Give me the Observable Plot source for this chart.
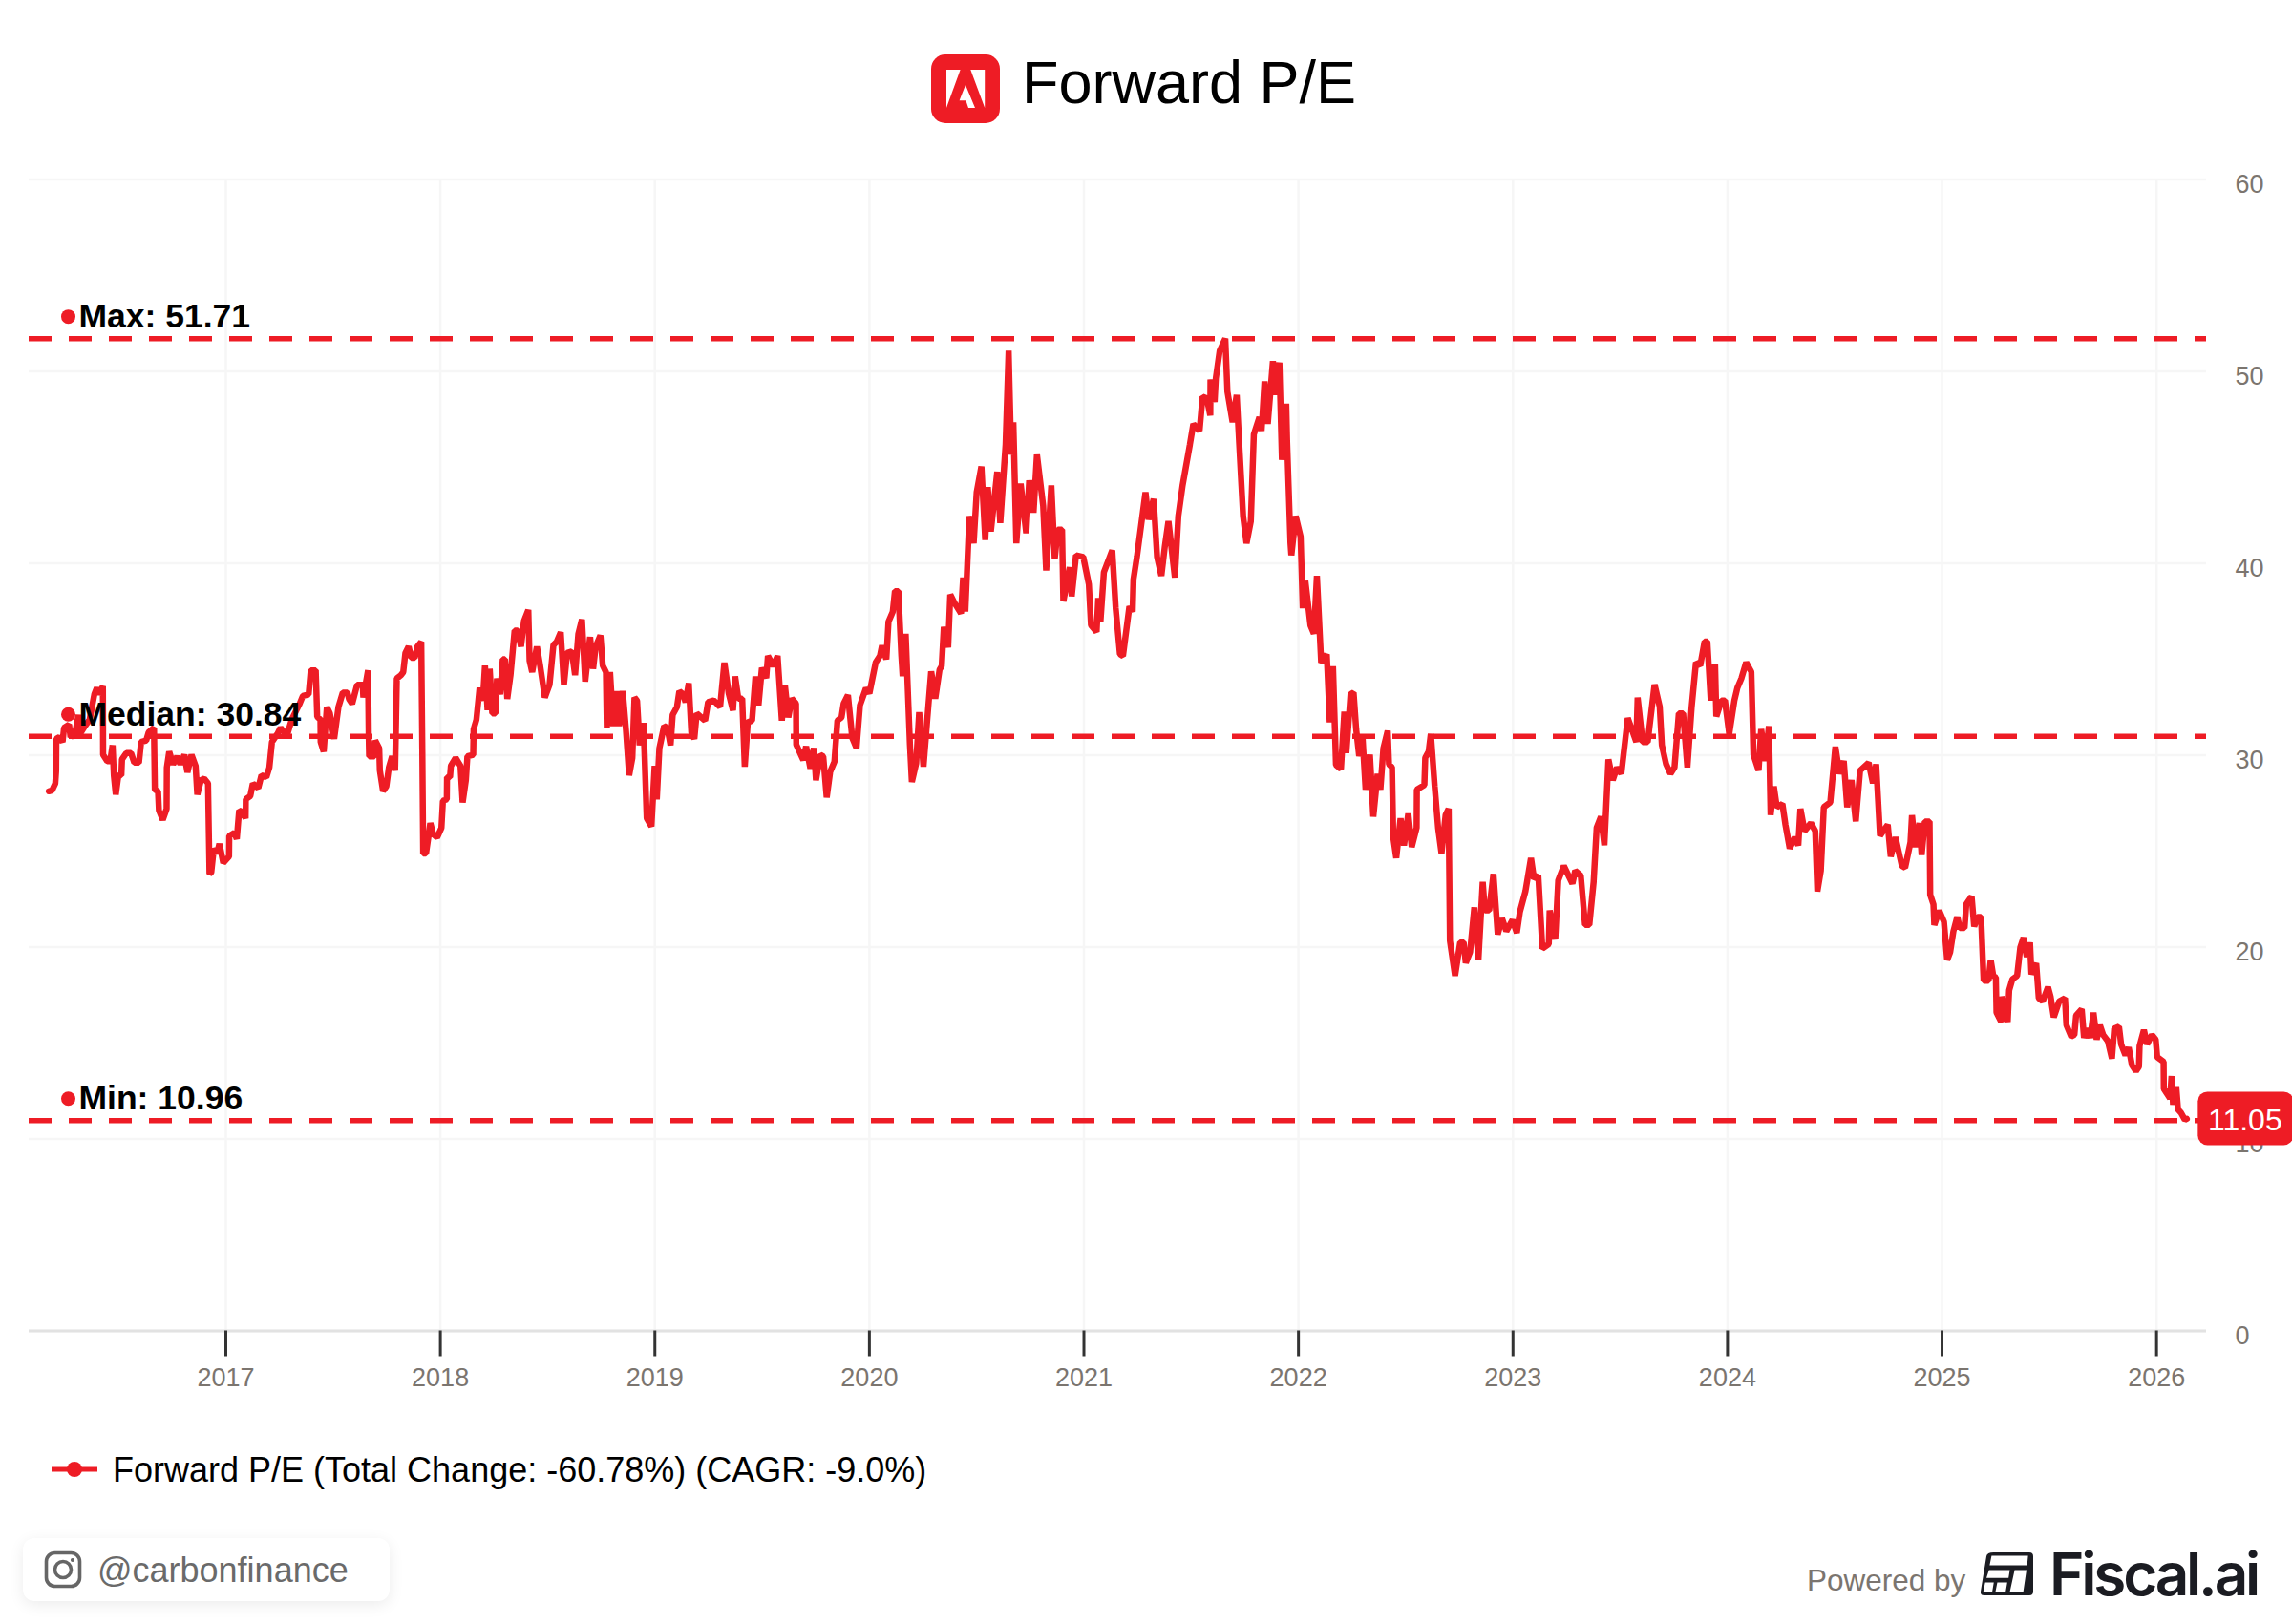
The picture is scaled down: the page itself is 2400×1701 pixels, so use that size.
<!DOCTYPE html>
<html>
<head>
<meta charset="utf-8">
<title>Forward P/E</title>
<script src="https://cdn.jsdelivr.net/npm/d3@7"></script>
<script src="https://cdn.jsdelivr.net/npm/@observablehq/plot@0.6"></script>
<style>
html,body{margin:0;padding:0;background:#fff;}
#page{position:relative;width:2400px;height:1701px;overflow:hidden;font-family:"Liberation Sans",Arial,Helvetica,sans-serif;}
#chart{position:absolute;left:0;top:170px;}
#chart svg{display:block;overflow:visible;}
.abs{position:absolute;white-space:nowrap;line-height:normal;}
</style>
</head>
<body>
<div id="page">
  <svg class="abs" style="left:975px;top:57px" width="72" height="72" viewBox="0 0 72 72">
    <rect width="72" height="72" rx="15" fill="#ee1c25"/>
    <path fill="#fff" d="M16 16H30.6L16 56ZM41.3 16H56.2V56ZM36 32L46 56H39L36.4 48.3H29.6Z"/>
  </svg>
  <div class="abs" id="title" style="left:1070px;top:49.5px;font-size:63px;color:#000">Forward P/E</div>
  <div id="chart"></div>
  <svg class="abs" style="left:54px;top:1525px" width="48" height="28" viewBox="0 0 48 28">
    <rect x="0" y="11.5" width="48" height="5" fill="#ee1c25"/>
    <circle cx="24" cy="14" r="8" fill="#ee1c25"/>
  </svg>
  <div class="abs" id="legend" style="left:118px;top:1518.5px;font-size:36px;color:#000">Forward P/E (Total Change: -60.78%) (CAGR: -9.0%)</div>
  <div class="abs" style="left:24px;top:1611px;width:384px;height:66px;border-radius:12px;background:#fff;box-shadow:0 4px 16px rgba(0,0,0,0.08)"></div>
  <svg class="abs" style="left:46px;top:1624px" width="40" height="40" viewBox="0 0 40 40" fill="none" stroke="#666" stroke-width="3.6">
    <rect x="2.5" y="2.5" width="35" height="35" rx="9"/>
    <circle cx="20" cy="20" r="8.5"/>
    <circle cx="30" cy="10" r="1.4" fill="#666" stroke-width="1.4"/>
  </svg>
  <div class="abs" id="handle" style="left:102px;top:1623.5px;font-size:36px;color:#6a6a6a">@carbonfinance</div>
  <div class="abs" id="powered" style="left:1892px;top:1636.5px;font-size:31.5px;color:#7b756f">Powered by</div>
  <svg class="abs" style="left:2074px;top:1626px" width="55" height="45" viewBox="44 48 164 134">
    <path fill="#1b1c22" d="M84 48H196Q208 48 208 60V170Q208 182 196 182H54Q42 182 44 170L62 60Q64 48 84 48Z"/>
    <path fill="#fff" d="M78 58H192L189 88H72ZM70 103H135L131 128H62ZM58 142H85L80 172H52ZM96 142H127L122 172H90ZM150 103H187L177 172H135Z"/>
  </svg>
  <div class="abs" id="brand" style="left:2146px;top:1611px;font-family:Inter,'Liberation Sans',sans-serif;font-weight:600;font-size:62px;letter-spacing:-3.2px;color:#1b1c22">Fiscal.ai</div>
</div>
<script>
const redColor = "#ee1c25";
const yearTicks = [2017, 2018, 2019, 2020, 2021, 2022, 2023, 2024, 2025, 2026];
const valueTicks = [0, 10, 20, 30, 40, 50, 60];
const statNames = ["Max: 51.71", "Median: 30.84", "Min: 10.96"];
const statLevels = [51.71, 30.98, 10.96];
const latestValue = 11.05;
const xDomain = [2016.083, 2026.233];
const yDomain = [0, 60];

// [decimal year, forward P/E]
const forwardPE = [
[2016.175,28.12],[2016.190,28.17],[2016.205,28.53],[2016.209,29.20],[2016.210,30.85],[2016.224,30.94],[2016.239,30.69],[2016.246,31.43],[2016.269,31.60],[2016.276,30.94],[2016.298,31.19],[2016.313,32.10],[2016.320,31.10],[2016.343,31.52],[2016.365,31.85],[2016.387,33.17],[2016.399,33.51],[2016.409,33.17],[2016.427,33.59],[2016.428,30.02],[2016.447,29.69],[2016.461,29.69],[2016.472,30.52],[2016.478,28.95],[2016.487,27.95],[2016.499,28.95],[2016.513,28.95],[2016.516,29.78],[2016.536,30.11],[2016.558,30.11],[2016.573,29.61],[2016.595,29.61],[2016.605,30.69],[2016.629,30.77],[2016.640,31.19],[2016.665,31.43],[2016.669,28.20],[2016.684,28.12],[2016.688,27.12],[2016.706,26.63],[2016.724,27.21],[2016.725,29.36],[2016.736,30.19],[2016.754,29.53],[2016.773,29.94],[2016.788,29.53],[2016.807,30.02],[2016.821,29.11],[2016.840,30.02],[2016.859,29.44],[2016.867,27.95],[2016.884,28.70],[2016.899,28.78],[2016.917,28.53],[2016.924,23.81],[2016.932,23.89],[2016.944,25.13],[2016.959,24.88],[2016.970,25.38],[2016.988,24.39],
[2017.015,24.72],[2017.016,25.80],[2017.040,25.96],[2017.051,25.63],[2017.062,27.12],[2017.077,27.04],[2017.092,26.71],[2017.093,27.70],[2017.114,27.87],[2017.126,28.53],[2017.151,28.28],[2017.166,28.95],[2017.189,28.86],[2017.203,29.36],[2017.215,30.69],[2017.240,31.10],[2017.255,31.43],[2017.285,31.02],[2017.307,31.85],[2017.344,32.68],[2017.359,33.09],[2017.386,33.17],[2017.396,34.42],[2017.419,34.42],[2017.426,32.01],[2017.441,31.85],[2017.442,30.69],[2017.456,30.19],[2017.471,32.51],[2017.485,32.18],[2017.505,30.85],[2017.525,32.51],[2017.545,33.26],[2017.567,33.26],[2017.574,32.93],[2017.589,32.68],[2017.612,33.67],[2017.638,33.67],[2017.641,33.01],[2017.663,34.42],[2017.666,31.02],[2017.668,29.94],[2017.693,29.94],[2017.696,30.77],[2017.715,30.36],[2017.718,29.20],[2017.733,28.12],[2017.748,28.37],[2017.760,29.36],[2017.775,29.94],[2017.789,29.20],[2017.797,34.00],[2017.816,34.17],[2017.827,34.33],[2017.837,35.33],[2017.852,35.66],[2017.864,35.08],[2017.881,35.08],[2017.893,35.66],[2017.911,35.91],[2017.916,30.19],[2017.920,24.88],[2017.933,24.88],[2017.945,25.80],[2017.953,26.46],[2017.967,25.88],[2017.985,25.71],
[2018.005,26.21],[2018.012,27.62],[2018.030,27.70],[2018.031,28.86],[2018.045,28.86],[2018.049,29.44],[2018.071,29.86],[2018.094,29.44],[2018.104,27.54],[2018.119,28.70],[2018.126,29.94],[2018.153,30.02],[2018.155,31.35],[2018.168,31.85],[2018.183,33.51],[2018.198,32.84],[2018.208,34.67],[2018.220,32.35],[2018.230,34.50],[2018.242,32.18],[2018.257,32.18],[2018.264,34.00],[2018.279,33.17],[2018.291,35.00],[2018.301,35.00],[2018.312,32.93],[2018.327,34.17],[2018.346,36.49],[2018.361,36.49],[2018.376,35.66],[2018.390,36.99],[2018.410,37.57],[2018.416,34.92],[2018.428,34.33],[2018.450,35.66],[2018.465,34.67],[2018.487,33.01],[2018.509,33.67],[2018.527,35.74],[2018.542,35.91],[2018.561,36.41],[2018.576,33.67],[2018.591,35.33],[2018.613,35.41],[2018.628,34.17],[2018.643,36.32],[2018.660,37.07],[2018.675,33.84],[2018.698,36.16],[2018.712,34.50],[2018.724,35.66],[2018.746,36.24],[2018.757,34.67],[2018.772,34.33],[2018.776,31.43],[2018.791,34.33],[2018.806,31.52],[2018.821,33.34],[2018.833,31.52],[2018.850,33.34],[2018.865,31.35],[2018.880,28.95],[2018.895,29.86],[2018.905,33.01],[2018.917,32.84],[2018.929,30.52],[2018.947,31.68],[2018.962,26.71],[2018.984,26.29],[2018.999,29.44],
[2019.009,27.70],[2019.021,30.36],[2019.043,31.52],[2019.058,31.43],[2019.073,30.52],[2019.083,32.10],[2019.103,32.51],[2019.114,33.34],[2019.132,33.17],[2019.143,32.76],[2019.158,33.75],[2019.170,31.19],[2019.184,30.85],[2019.195,32.18],[2019.234,31.80],[2019.248,32.77],[2019.274,32.86],[2019.304,32.51],[2019.324,34.82],[2019.344,33.22],[2019.364,32.33],[2019.374,34.11],[2019.389,32.95],[2019.407,32.95],[2019.419,29.40],[2019.433,31.71],[2019.453,31.80],[2019.469,34.11],[2019.483,32.60],[2019.499,34.55],[2019.519,34.02],[2019.527,35.17],[2019.552,34.64],[2019.572,35.17],[2019.592,31.80],[2019.606,33.66],[2019.622,31.97],[2019.638,32.95],[2019.658,32.69],[2019.659,30.55],[2019.692,29.75],[2019.705,30.46],[2019.725,29.31],[2019.741,30.37],[2019.751,28.69],[2019.771,30.02],[2019.785,29.93],[2019.801,27.80],[2019.817,29.13],[2019.837,29.66],[2019.851,31.80],[2019.870,31.97],[2019.880,32.69],[2019.900,33.13],[2019.920,30.91],[2019.940,30.37],[2019.956,32.60],[2019.984,33.49],
[2020.000,33.22],[2020.029,34.82],[2020.049,35.17],[2020.059,35.71],[2020.079,35.00],[2020.089,36.95],[2020.109,37.48],[2020.119,38.55],[2020.135,38.55],[2020.149,35.17],[2020.155,34.11],[2020.169,36.33],[2020.189,30.55],[2020.198,28.60],[2020.218,29.58],[2020.232,32.24],[2020.252,29.40],[2020.268,31.62],[2020.288,34.37],[2020.307,32.95],[2020.327,34.46],[2020.337,34.64],[2020.347,36.68],[2020.367,35.62],[2020.377,38.37],[2020.397,37.93],[2020.427,37.39],[2020.437,39.26],[2020.447,37.48],[2020.466,42.46],[2020.486,41.04],[2020.500,43.70],[2020.522,45.04],[2020.540,41.22],[2020.552,43.97],[2020.566,41.66],[2020.596,44.77],[2020.610,42.10],[2020.635,46.19],[2020.649,51.08],[2020.661,45.66],[2020.671,47.35],[2020.685,41.04],[2020.705,44.15],[2020.731,41.57],[2020.745,44.32],[2020.765,42.64],[2020.781,45.66],[2020.810,42.99],[2020.824,39.62],[2020.848,44.06],[2020.864,40.24],[2020.878,41.75],[2020.898,41.75],[2020.904,38.02],[2020.934,39.79],[2020.943,38.28],[2020.963,40.42],[2020.997,40.33],
[2021.023,38.90],[2021.033,36.77],[2021.059,36.42],[2021.067,38.19],[2021.077,36.95],[2021.093,39.53],[2021.132,40.68],[2021.148,37.66],[2021.168,35.26],[2021.182,35.17],[2021.212,37.75],[2021.227,37.48],[2021.231,39.17],[2021.247,40.33],[2021.267,42.01],[2021.287,43.70],[2021.301,42.28],[2021.325,43.35],[2021.341,40.33],[2021.361,39.35],[2021.377,40.86],[2021.394,42.19],[2021.424,39.26],[2021.440,42.46],[2021.460,44.06],[2021.494,46.19],[2021.510,47.26],[2021.539,46.90],[2021.553,48.68],[2021.573,48.59],[2021.589,47.70],[2021.590,49.57],[2021.609,48.41],[2021.615,49.65],[2021.633,51.08],[2021.659,51.71],[2021.669,48.94],[2021.693,47.35],[2021.712,48.77],[2021.724,46.19],[2021.742,42.46],[2021.758,41.04],[2021.778,42.19],[2021.792,46.72],[2021.818,47.61],[2021.828,46.90],[2021.842,49.48],[2021.857,47.26],[2021.881,50.54],[2021.893,48.77],[2021.911,50.46],[2021.923,45.39],[2021.943,48.32],[2021.947,46.37],[2021.963,41.04],[2021.967,40.42],[2021.987,42.46],
[2022.010,41.39],[2022.020,37.66],[2022.032,39.08],[2022.056,36.77],[2022.072,36.33],[2022.086,39.35],[2022.106,34.82],[2022.132,35.26],[2022.146,31.71],[2022.161,34.64],[2022.175,29.49],[2022.198,29.28],[2022.214,32.27],[2022.223,30.11],[2022.243,33.18],[2022.257,33.26],[2022.269,31.36],[2022.283,29.95],[2022.299,30.86],[2022.313,28.21],[2022.333,30.03],[2022.349,26.80],[2022.369,29.03],[2022.382,28.21],[2022.396,30.36],[2022.416,31.27],[2022.422,29.53],[2022.436,29.37],[2022.442,25.72],[2022.456,24.64],[2022.476,26.71],[2022.492,25.30],[2022.512,26.96],[2022.528,25.22],[2022.551,26.22],[2022.552,28.21],[2022.587,28.45],[2022.591,29.86],[2022.607,30.20],[2022.617,31.11],[2022.635,28.37],[2022.651,26.22],[2022.667,24.89],[2022.686,26.88],[2022.700,27.21],[2022.706,20.33],[2022.730,18.51],[2022.754,20.25],[2022.770,20.25],[2022.780,19.17],[2022.800,19.75],[2022.820,22.07],[2022.839,19.34],[2022.859,23.40],[2022.869,21.91],[2022.889,21.91],[2022.909,23.81],[2022.929,20.66],[2022.949,21.49],[2022.969,20.83],[2022.998,21.41],
[2023.018,20.74],[2023.032,21.82],[2023.058,22.90],[2023.084,24.64],[2023.098,23.56],[2023.118,23.73],[2023.137,19.92],[2023.167,20.16],[2023.171,21.91],[2023.197,20.41],[2023.211,23.48],[2023.237,24.23],[2023.277,23.31],[2023.290,23.98],[2023.316,23.73],[2023.336,21.16],[2023.356,21.16],[2023.376,23.40],[2023.390,26.22],[2023.410,26.80],[2023.426,25.30],[2023.445,29.78],[2023.465,28.70],[2023.485,29.37],[2023.505,29.03],[2023.535,31.94],[2023.575,30.69],[2023.581,33.01],[2023.604,30.69],[2023.628,30.69],[2023.660,33.68],[2023.684,32.52],[2023.694,30.53],[2023.714,29.53],[2023.734,29.03],[2023.753,29.37],[2023.773,32.18],[2023.793,32.18],[2023.813,29.37],[2023.833,32.52],[2023.853,34.84],[2023.873,34.67],[2023.893,35.92],[2023.906,35.92],[2023.922,32.85],[2023.942,34.75],[2023.948,32.02],[2023.972,32.85],[2023.988,32.85],
[2024.008,31.11],[2024.032,32.85],[2024.046,33.51],[2024.065,34.01],[2024.087,34.84],[2024.111,34.34],[2024.121,30.03],[2024.145,29.20],[2024.157,31.36],[2024.177,29.70],[2024.193,31.52],[2024.201,26.88],[2024.216,28.37],[2024.230,27.29],[2024.256,27.46],[2024.270,26.38],[2024.290,25.14],[2024.314,25.72],[2024.330,25.30],[2024.340,27.21],[2024.359,26.05],[2024.389,26.46],[2024.409,26.05],[2024.419,22.90],[2024.435,23.98],[2024.449,27.29],[2024.479,27.54],[2024.503,30.44],[2024.522,29.03],[2024.542,29.70],[2024.558,27.29],[2024.578,28.70],[2024.598,26.55],[2024.618,29.20],[2024.658,29.61],[2024.678,28.54],[2024.693,29.53],[2024.711,25.80],[2024.747,26.38],[2024.761,24.72],[2024.783,25.72],[2024.813,24.23],[2024.828,24.14],[2024.853,25.46],[2024.860,26.87],[2024.875,25.21],[2024.895,26.46],[2024.905,24.80],[2024.920,26.54],[2024.942,26.54],[2024.945,22.73],[2024.960,22.23],[2024.964,21.15],[2024.987,21.90],
[2025.009,21.32],[2025.024,19.33],[2025.038,19.74],[2025.053,20.82],[2025.071,21.57],[2025.083,20.99],[2025.105,20.99],[2025.113,22.23],[2025.138,22.64],[2025.150,21.07],[2025.165,21.57],[2025.182,21.57],[2025.194,18.25],[2025.217,18.25],[2025.227,19.33],[2025.239,18.50],[2025.251,18.42],[2025.254,16.59],[2025.276,16.10],[2025.280,17.42],[2025.291,16.92],[2025.306,16.10],[2025.313,17.75],[2025.328,18.33],[2025.350,18.50],[2025.365,19.99],[2025.380,20.49],[2025.395,19.49],[2025.410,20.24],[2025.417,18.58],[2025.439,19.16],[2025.451,17.34],[2025.469,17.17],[2025.494,17.92],[2025.506,17.42],[2025.521,16.34],[2025.546,17.17],[2025.573,17.34],[2025.580,15.93],[2025.602,15.35],[2025.617,15.43],[2025.625,16.43],[2025.651,16.76],[2025.662,15.27],[2025.677,15.76],[2025.691,15.27],[2025.706,16.59],[2025.721,15.18],[2025.736,15.93],[2025.751,15.43],[2025.773,15.10],[2025.792,14.19],[2025.803,15.76],[2025.825,15.85],[2025.835,14.93],[2025.855,14.36],[2025.870,14.77],[2025.885,13.86],[2025.904,13.53],[2025.918,13.77],[2025.921,14.85],[2025.941,15.68],[2025.956,14.93],[2025.978,15.43],[2025.996,15.18],
[2026.003,14.27],[2026.033,14.02],[2026.034,12.61],[2026.063,12.12],[2026.070,13.28],[2026.077,11.79],[2026.092,12.70],[2026.100,11.54],[2026.114,11.37],[2026.132,11.00],[2026.141,11.05]
];
const lastPoint = forwardPE[forwardPE.length - 1];
const stats = statNames.map((label, i) => ({label, level: statLevels[i], at: xDomain[0]}));

const latestBadge = (index, {x, y}) => {
  const g = d3.create("svg:g");
  const left = x(lastPoint[0]) + 12, mid = y(latestValue);
  g.append("rect").attr("x", left).attr("y", mid - 28).attr("width", 100).attr("height", 56).attr("rx", 10).attr("fill", redColor);
  g.append("text").attr("x", left + 49.5).attr("y", mid + 12.5).attr("text-anchor", "middle")
    .attr("font-size", 32).attr("fill", "#fff").text(latestValue.toFixed(2));
  return g.node();
};

const chart = Plot.plot({
  width: 2400,
  height: 1300,
  marginTop: 17.5,
  marginBottom: 76.5,
  marginLeft: 30,
  marginRight: 90,
  style: {background: "transparent", fontFamily: '"Liberation Sans", Arial, Helvetica, sans-serif', overflow: "visible"},
  x: {type: "linear", domain: xDomain, label: null},
  y: {domain: yDomain, label: null},
  marks: [
    Plot.gridX(yearTicks, {stroke: "#f6f6f6", strokeOpacity: 1, strokeWidth: 2.5}),
    Plot.gridY(valueTicks, {stroke: "#f6f6f6", strokeOpacity: 1, strokeWidth: 2.5}),
    Plot.ruleY([0], {stroke: "#e2e2e2", strokeWidth: 3}),
    Plot.axisX({ticks: yearTicks, tickFormat: "d", tickSize: 27, tickPadding: 11.5, stroke: "#333", strokeWidth: 3, fill: "#7b756f", fontSize: 27, label: null}),
    Plot.axisY({ticks: valueTicks, tickFormat: "d", anchor: "right", tickSize: 0, tickPadding: 30, fill: "#7b756f", fontSize: 27, dy: 5, label: null}),
    Plot.ruleY(stats, {y: "level", stroke: redColor, strokeWidth: 5.5, strokeDasharray: "24,18"}),
    Plot.line(forwardPE, {x: d => d[0], y: d => d[1], stroke: redColor, strokeWidth: 6.5, strokeLinejoin: "bevel", curve: "linear"}),
    Plot.dot(stats, {x: "at", y: "level", dx: 41, dy: -23, r: 7.5, fill: redColor, stroke: "none"}),
    Plot.text(stats, {x: "at", y: "level", text: "label", dx: 52, dy: -23, textAnchor: "start", fontWeight: "bold", fontSize: 35.5, fill: "#000"}),
    latestBadge
  ]
});
document.getElementById("chart").appendChild(chart);
</script>
</body>
</html>
